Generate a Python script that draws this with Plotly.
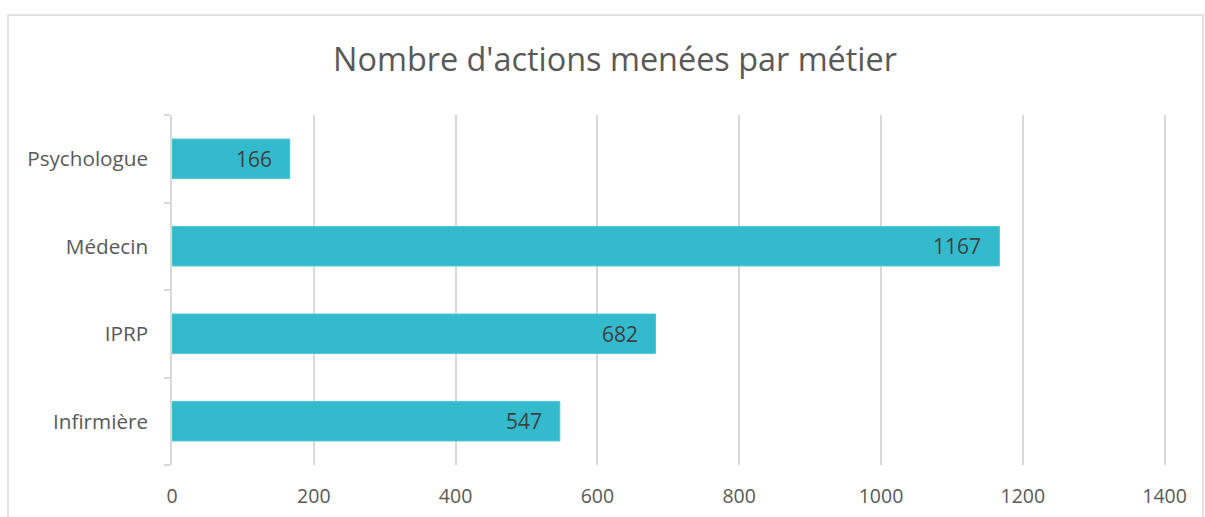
import plotly.graph_objects as go

# data (bottom to top, plotly draws first category at the bottom)
metiers = ["Infirmière", "IPRP", "Médecin", "Psychologue"]
actions = [547, 682, 1167, 166]
x_ticks = [0, 200, 400, 600, 800, 1000, 1200, 1400]

W, H = 1205, 517
ml, mr, mt, mb = 172, 39, 115, 52
pw, ph = W - ml - mr, H - mt - mb

fig = go.Figure()

fig.add_trace(go.Bar(
    y=metiers,
    x=actions,
    orientation="h",
    marker=dict(color="#33BBCD", line=dict(color="#4CC6D6", width=1)),
    hoverinfo="skip",
))

# value labels, inside the end of each bar
for m, v in zip(metiers, actions):
    fig.add_annotation(
        x=v, y=m, text=str(v),
        xanchor="right", yanchor="middle", xshift=-16,
        showarrow=False,
        font=dict(family="Open Sans", size=21, color="#404040"),
    )

# chart border (Excel-like chart area outline)
fig.add_shape(
    type="rect",
    xref="paper", yref="paper",
    x0=(8 - ml) / pw, x1=(1203 - ml) / pw,
    y0=(H - mb - 530) / ph, y1=(H - mb - 15) / ph,
    line=dict(color="#D9D9D9", width=1.5),
    fillcolor="rgba(0,0,0,0)",
    layer="below",
)

fig.update_layout(
    width=W, height=H,
    margin=dict(l=ml, r=mr, t=mt, b=mb),
    title=dict(
        text="Nombre d'actions menées par métier",
        x=615 / W, xref="container", xanchor="center",
        y=(H - 60) / H, yref="container", yanchor="middle",
        font=dict(family="Open Sans", size=32.4, color="#595959"),
    ),
    showlegend=False,
    bargap=0.55,
    plot_bgcolor="white",
    paper_bgcolor="white",
    xaxis=dict(
        range=[0, 1402],
        tickvals=x_ticks,
        showgrid=True, gridcolor="#D9D9D9", gridwidth=1.5,
        zeroline=False, showline=False,
        ticks="",
        tickfont=dict(family="Open Sans", size=19.5, color="#595959"),
        ticklabelstandoff=17,
        automargin=False,
    ),
    yaxis=dict(
        type="category",
        categoryorder="array", categoryarray=metiers,
        showline=True, linecolor="#D9D9D9", linewidth=1.5,
        ticks="outside", tickson="boundaries", ticklen=6,
        tickcolor="#D9D9D9", tickwidth=1.5,
        showgrid=False,
        tickfont=dict(family="Open Sans", size=20.7, color="#595959"),
        ticklabelstandoff=18,
        automargin=False,
    ),
)

fig.write_html("out.html", config={"displayModeBar": False},
               post_script="document.body.style.margin='0';")
